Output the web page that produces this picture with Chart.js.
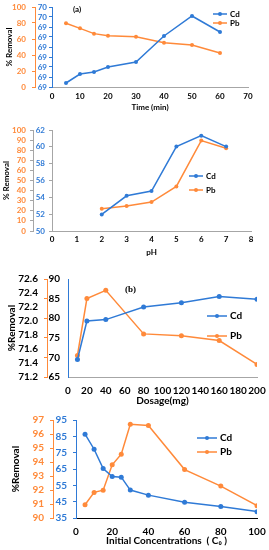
<!DOCTYPE html>
<html>
<head>
<meta charset="utf-8">
<script src="https://cdn.jsdelivr.net/npm/chart.js@4.4.0/dist/chart.umd.min.js"></script>
<style>
  html, body { margin: 0; padding: 0; background: #fff; }
  body { width: 269px; height: 550px; position: relative; overflow: hidden; }
  canvas { position: absolute; left: 0; }
</style>
</head>
<body>
<canvas id="c1" width="269" height="116" style="top:0px"></canvas>
<canvas id="c2" width="269" height="136" style="top:122px"></canvas>
<canvas id="c3" width="269" height="143" style="top:266px"></canvas>
<canvas id="c4" width="269" height="140" style="top:410px"></canvas>
<script>
// (a) contact time
const timeMin = [5, 10, 15, 20, 30, 40, 50, 60]
const timeCd = [68.84, 68.93, 68.95, 69.0, 69.05, 69.31, 69.51, 69.35]
const timePb = [79.6, 73.3, 66.7, 64.2, 62.9, 55.4, 52.5, 42.5]

// pH
const phVals = [2, 3, 4, 5, 6, 7]
const phCd = [51.97, 54.18, 54.74, 60.03, 61.33, 60.03]
const phPb = [22.0, 24.7, 28.6, 44.1, 89.5, 81.9]

// (b) dosage
const dosageMg = [10, 20, 40, 80, 120, 160, 200]
const dosageCd = [71.45, 72.0, 72.02, 72.2, 72.26, 72.35, 72.31]
const dosagePb = [70.5, 85.0, 87.1, 76.0, 75.5, 74.3, 68.2]

// initial concentration
const concC0 = [5, 10, 15, 20, 25, 30, 40, 60, 80, 100]
const concCd = [86.3, 77.1, 65.3, 60.4, 60.0, 52.1, 49.0, 44.6, 42.1, 38.9]
const concPb = [90.95, 91.83, 91.99, 93.8, 94.56, 96.69, 96.6, 93.46, 92.28, 90.88]

const BLUE = '#2F7AD6'
const ORANGE = '#FF8A3A'
const GRAY = '#A6A6A6'
const FONT = 'Lato'

Chart.defaults.font.family = FONT
Chart.defaults.font.weight = 'bold'
Chart.defaults.color = '#000'

const pts = (xs, ys) => xs.map((x, i) => ({ x: x, y: ys[i] }))

function fixSize(w, h) {
    return (s) => {
        if (w != null) s.width = w
        if (h != null) s.height = h
        s.paddingTop = 0
        s.paddingBottom = 0
        s.paddingLeft = 0
        s.paddingRight = 0
    }
}

function yAxis(o) {
    const ticks = {
        stepSize: o.step,
        color: o.labelColor || '#000',
        padding: o.pad || 0,
        display: o.labels !== false,
        autoSkip: false,
        font: { size: o.size, weight: 'bold' },
    }
    if (o.fmt) ticks.callback = o.fmt
    return {
        type: 'linear',
        position: 'left',
        weight: o.weight,
        min: o.min,
        max: o.max,
        ticks: ticks,
        grid: { display: !!o.tick, drawOnChartArea: false, drawTicks: true, tickLength: o.tick || 0, color: o.tickColor || o.border },
        border: { display: !!o.border, color: o.border, width: 1 },
        title: o.title
            ? { display: true, text: o.title, color: '#000', font: { size: o.size, weight: 'bold' }, padding: { top: o.titlePad, bottom: 0 } }
            : { display: false },
        afterFit: fixSize(o.width, null),
    }
}

function xAxis(o) {
    return {
        type: 'linear',
        position: 'bottom',
        min: o.min,
        max: o.max,
        ticks: { stepSize: o.step, padding: o.pad, autoSkip: false, maxRotation: 0, font: { size: o.size, weight: 'bold' } },
        grid: { display: false, drawTicks: false },
        border: { display: true, color: o.border, width: 1 },
        title: { display: true, text: o.title, color: '#000', font: { size: o.size, weight: 'bold' }, padding: { top: 0, bottom: o.titlePad } },
        afterFit: fixSize(null, o.height),
    }
}

const legendPlugin = {
    id: 'miniLegend',
    afterDraw(chart, args, opts) {
        const ctx = chart.ctx
        ctx.save()
        ctx.textBaseline = 'middle'
        ctx.font = 'bold ' + opts.size + 'px ' + FONT
        chart.data.datasets.forEach((ds, i) => {
            const y = opts.y + i * opts.gap
            ctx.strokeStyle = ds.borderColor
            ctx.lineWidth = 1.5
            ctx.beginPath()
            ctx.moveTo(opts.x, y)
            ctx.lineTo(opts.x + opts.len, y)
            ctx.stroke()
            ctx.fillStyle = ds.borderColor
            ctx.beginPath()
            ctx.arc(opts.x + opts.len / 2, y, 2, 0, Math.PI * 2)
            ctx.fill()
            ctx.fillStyle = '#000'
            ctx.fillText(ds.label, opts.x + opts.len + 3, y)
        })
        if (opts.tag) {
            ctx.font = opts.tag.font
            ctx.fillStyle = '#000'
            ctx.fillText(opts.tag.text, opts.tag.x, opts.tag.y)
        }
        ctx.restore()
    }
}

function lineSet(label, data, color, axis, r) {
    return {
        label: label,
        data: data,
        yAxisID: axis,
        borderColor: color,
        backgroundColor: color,
        borderWidth: 1.5,
        pointRadius: r,
        pointBorderWidth: 0,
        pointBackgroundColor: color,
        tension: 0,
        fill: false,
    }
}

function makeChart(id, datasets, scales, padding, legend) {
    return new Chart(document.getElementById(id), {
        type: 'line',
        data: { datasets: datasets },
        options: {
            responsive: false,
            animation: false,
            layout: { padding: padding },
            scales: scales,
            plugins: { legend: { display: false }, tooltip: { enabled: false }, miniLegend: legend },
        },
        plugins: [legendPlugin],
    })
}

// panel (a): time
makeChart('c1',
    [lineSet('Cd', pts(timeMin, timeCd), BLUE, 'yCd', 2), lineSet('Pb', pts(timeMin, timePb), ORANGE, 'yPb', 2)],
    {
        x: xAxis({ min: 0, max: 70, step: 10, pad: 5, size: 8, title: 'Time (min)', titlePad: 4, border: GRAY, height: 29 }),
        yPb: yAxis({ weight: 1, width: 35, min: 0, max: 100, step: 20, labelColor: ORANGE, tick: 3, pad: 6, border: ORANGE, size: 8, title: '% Removal', titlePad: 5 }),
        yCd: yAxis({ weight: 0, width: 17, min: 68.8, max: 69.6, step: 0.1, labelColor: BLUE, tick: 3, pad: 2, border: BLUE, size: 8, fmt: (v) => Math.round(v + 1e-6) }),
    },
    { left: 0, top: 7, right: 21, bottom: 0 },
    { x: 213, y: 14, gap: 9, len: 14, size: 8, tag: { text: '(a)', x: 73, y: 9, font: 'bold 8px ' + FONT } }
)

// panel: pH
makeChart('c2',
    [lineSet('Cd', pts(phVals, phCd), BLUE, 'yCd', 2), lineSet('Pb', pts(phVals, phPb), ORANGE, 'yPb', 2)],
    {
        x: xAxis({ min: 0, max: 8, step: 1, pad: 4, size: 8, title: 'pH', titlePad: 1, border: GRAY, height: 27 }),
        yPb: yAxis({ weight: 1, width: 33, min: 0, max: 100, step: 10, labelColor: ORANGE, tick: 3, pad: 4, border: GRAY, size: 8, title: '% Removal', titlePad: 2 }),
        yCd: yAxis({ weight: 0, width: 19, min: 50, max: 62, step: 2, labelColor: BLUE, tick: 3, pad: 4, border: GRAY, size: 8 }),
    },
    { left: 0, top: 8, right: 18, bottom: 0 },
    { x: 189, y: 54, gap: 14, len: 14, size: 8 }
)

// panel (b): dosage
makeChart('c3',
    [lineSet('Cd', pts(dosageMg, dosageCd), BLUE, 'yCd', 2.5), lineSet('Pb', pts(dosageMg, dosagePb), ORANGE, 'yPb', 2.5)],
    {
        x: xAxis({ min: 0, max: 200, step: 20, pad: 8, size: 10, title: 'Dosage(mg)', titlePad: 2, border: GRAY, height: 32 }),
        yCd: yAxis({ weight: 2, width: 44, min: 71.2, max: 72.6, step: 0.2, tick: 0, pad: 6, size: 10, fmt: (v) => v.toFixed(1), title: '%Removal', titlePad: 6 }),
        yLine: yAxis({ weight: 1, width: 3, min: 65, max: 90, step: 5, labels: false, tick: 3, border: ORANGE, size: 10 }),
        yPb: yAxis({ weight: 0, width: 21, min: 65, max: 90, step: 5, tick: 0, pad: 8, border: BLUE, size: 10 }),
    },
    { left: 0, top: 13, right: 12, bottom: 0 },
    { x: 207, y: 50, gap: 20, len: 20, size: 10, tag: { text: '(b)', x: 125, y: 24, font: 'bold 9px "Liberation Serif"' } }
)

// panel: initial concentration
makeChart('c4',
    [lineSet('Cd', pts(concC0, concCd), BLUE, 'yCd', 2.5), lineSet('Pb', pts(concC0, concPb), ORANGE, 'yPb', 2.5)],
    {
        x: xAxis({ min: 0, max: 100, step: 20, pad: 8, size: 10, title: 'Initial Concentrations  ( C\u2080 )', titlePad: 3, border: '#000', height: 32 }),
        yPb: yAxis({ weight: 1, width: 53, min: 90, max: 97, step: 1, labelColor: ORANGE, tick: 3, pad: 6, border: ORANGE, size: 10, title: '%Removal', titlePad: 10 }),
        yCd: yAxis({ weight: 0, width: 23, min: 35, max: 95, step: 10, labelColor: BLUE, tick: 3, pad: 6, border: BLUE, size: 10 }),
    },
    { left: 0, top: 10, right: 12, bottom: 0 },
    { x: 197, y: 28, gap: 14, len: 20, size: 10 }
)
</script>
</body>
</html>
